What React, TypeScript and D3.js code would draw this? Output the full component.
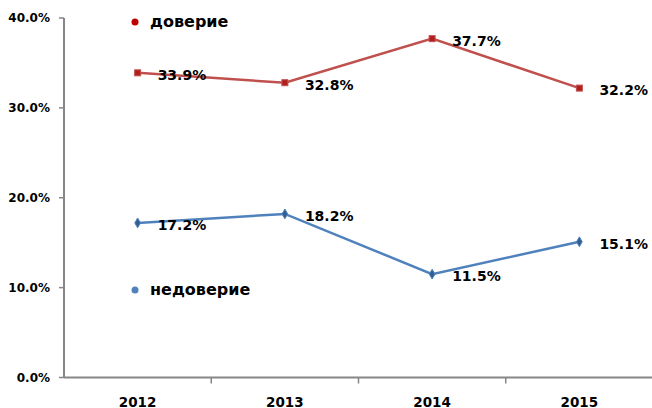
import { useEffect, useRef } from 'react';
import * as d3 from 'd3';

const years = ['2012', '2013', '2014', '2015'];
const trustValues = [33.9, 32.8, 37.7, 32.2];
const distrustValues = [17.2, 18.2, 11.5, 15.1];
const yTicks = [0, 10, 20, 30, 40];
const trustLabel = 'доверие';
const distrustLabel = 'недоверие';

const width = 652;
const height = 408;

const App = () => {
    const chartRef = useRef<SVGSVGElement | null>(null);

    useEffect(() => {
        const svg = d3.select(chartRef.current);
        svg.selectAll('*').remove();

        const font = '"DejaVu Sans", sans-serif';
        const axisColor = '#868686';

        const xScale = d3.scaleBand<string>()
            .domain(years)
            .range([64, 653])
            .padding(0);

        const yScale = d3.scaleLinear()
            .domain([0, 40])
            .range([377.5, 18]);

        const xMid = (d: string) => (xScale(d) ?? 0) + xScale.bandwidth() / 2;

        // y axis
        const yAxis = svg.append('g').attr('transform', 'translate(64,0)');
        yAxis.append('line')
            .attr('x1', 0).attr('x2', 0)
            .attr('y1', yScale(40)).attr('y2', yScale(0))
            .attr('stroke', axisColor).attr('stroke-width', 2);
        yAxis.selectAll('line.tick')
            .data(yTicks)
            .enter().append('line')
            .attr('class', 'tick')
            .attr('x1', -5).attr('x2', 0)
            .attr('y1', d => yScale(d)).attr('y2', d => yScale(d))
            .attr('stroke', axisColor).attr('stroke-width', 1.5);
        yAxis.selectAll('text')
            .data(yTicks)
            .enter().append('text')
            .attr('x', -14)
            .attr('y', d => yScale(d) + 4)
            .attr('text-anchor', 'end')
            .style('font-family', font)
            .style('font-weight', 'bold')
            .style('font-size', '12px')
            .text(d => d.toFixed(1) + '%');

        // x axis
        const xAxis = svg.append('g').attr('transform', `translate(0,${yScale(0)})`);
        xAxis.append('line')
            .attr('x1', 64).attr('x2', 653)
            .attr('y1', 0).attr('y2', 0)
            .attr('stroke', axisColor).attr('stroke-width', 2);
        xAxis.selectAll('line.tick')
            .data(years)
            .enter().append('line')
            .attr('class', 'tick')
            .attr('x1', d => (xScale(d) ?? 0) + xScale.bandwidth())
            .attr('x2', d => (xScale(d) ?? 0) + xScale.bandwidth())
            .attr('y1', 0).attr('y2', 6)
            .attr('stroke', axisColor).attr('stroke-width', 1.5);
        xAxis.selectAll('text')
            .data(years)
            .enter().append('text')
            .attr('x', d => xMid(d))
            .attr('y', 29)
            .attr('text-anchor', 'middle')
            .style('font-family', font)
            .style('font-weight', 'bold')
            .style('font-size', '13.5px')
            .text(d => d);

        const line = d3.line<number>()
            .x((_, i) => xMid(years[i]))
            .y(d => yScale(d));

        // trust series (red, squares)
        svg.append('path')
            .datum(trustValues)
            .attr('fill', 'none')
            .attr('stroke', '#C0504D')
            .attr('stroke-width', 2.5)
            .attr('d', line);
        svg.selectAll('rect.trust')
            .data(trustValues)
            .enter().append('rect')
            .attr('class', 'trust')
            .attr('x', (_, i) => xMid(years[i]) - 3)
            .attr('y', d => yScale(d) - 3)
            .attr('width', 6).attr('height', 6)
            .attr('fill', '#B01E1E')
            .attr('stroke', '#C0504D').attr('stroke-width', 1);

        // distrust series (blue, diamonds)
        svg.append('path')
            .datum(distrustValues)
            .attr('fill', 'none')
            .attr('stroke', '#4F81BD')
            .attr('stroke-width', 2.5)
            .attr('d', line);
        svg.selectAll('path.distrust')
            .data(distrustValues)
            .enter().append('path')
            .attr('class', 'distrust')
            .attr('d', d3.symbol().type(d3.symbolDiamond).size(28))
            .attr('transform', (d, i) => `translate(${xMid(years[i])},${yScale(d)})`)
            .attr('fill', '#2F5F93')
            .attr('stroke', '#4F81BD').attr('stroke-width', 1);

        // data labels
        const addLabels = (values: number[], cls: string) => {
            svg.selectAll('text.' + cls)
                .data(values)
                .enter().append('text')
                .attr('class', cls)
                .attr('x', (_, i) => xMid(years[i]) + 20)
                .attr('y', d => yScale(d) + 7)
                .style('font-family', font)
                .style('font-weight', 'bold')
                .style('font-size', '14px')
                .attr('fill', '#000')
                .text(d => d.toFixed(1) + '%');
        };
        addLabels(trustValues, 'trustLabel');
        addLabels(distrustValues, 'distrustLabel');

        // legend-like series names
        const legend = [
            { name: trustLabel, color: '#C00000', y: 22 },
            { name: distrustLabel, color: '#4F81BD', y: 290 },
        ];
        const lg = svg.selectAll('g.legend')
            .data(legend)
            .enter().append('g')
            .attr('class', 'legend');
        lg.append('circle')
            .attr('cx', 135)
            .attr('cy', d => d.y)
            .attr('r', 3.5)
            .attr('fill', d => d.color);
        lg.append('text')
            .attr('x', 150)
            .attr('y', d => d.y + 5)
            .style('font-family', font)
            .style('font-weight', 'bold')
            .style('font-size', '16px')
            .text(d => d.name);
    }, []);

    return (
        <svg
            ref={chartRef}
            width={width}
            height={height}
            style={{ position: 'absolute', left: 0, top: 0, background: '#fff' }}
        ></svg>
    );
};

export default App;
